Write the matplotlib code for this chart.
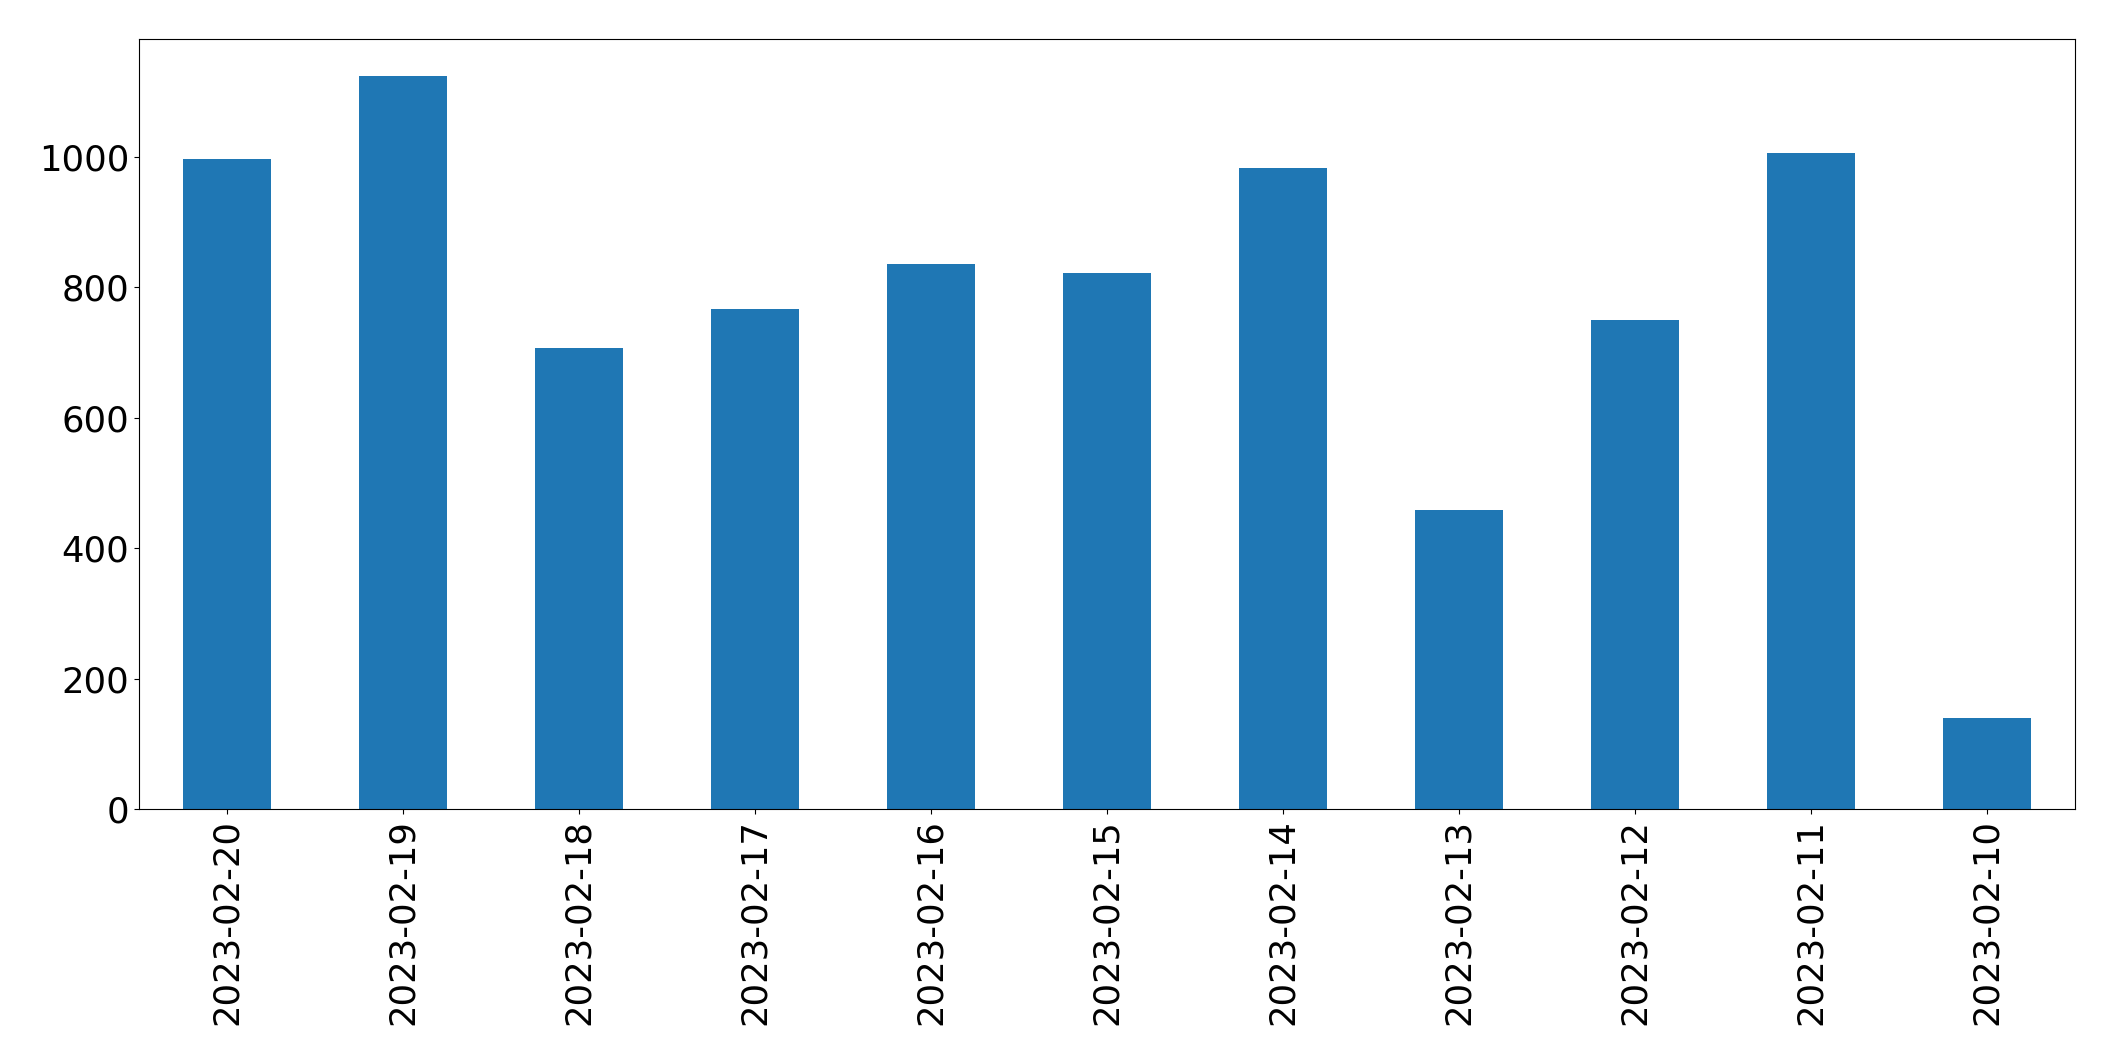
import matplotlib
matplotlib.use("Agg")
import matplotlib.pyplot as plt

dates = ["2023-02-20", "2023-02-19", "2023-02-18", "2023-02-17", "2023-02-16",
         "2023-02-15", "2023-02-14", "2023-02-13", "2023-02-12", "2023-02-11",
         "2023-02-10"]
values = [996, 1124, 707, 767, 836, 821, 982, 459, 749, 1006, 140]

fig = plt.figure(figsize=(21.15, 10.61), dpi=100)
ax = fig.add_axes([139/2115, 1 - 809/1061, (2075 - 139)/2115, (809 - 39)/1061])
x = range(len(dates))
ax.bar(x, values, width=0.5, color="#1f77b4")
ax.set_xlim(-0.5, len(dates) - 0.5)
ax.set_xticks(list(x))
ax.set_xticklabels(dates, rotation=90)
ax.set_yticks([0, 200, 400, 600, 800, 1000])
ax.tick_params(axis="both", labelsize=25.5)
fig.savefig("out.png", dpi=100)
